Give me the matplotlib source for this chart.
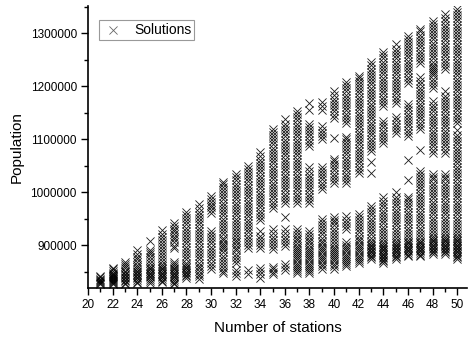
import matplotlib
matplotlib.use("Agg")
import matplotlib.pyplot as plt
import numpy as np

plt.rcParams['font.family'] = ['Liberation Sans', 'DejaVu Sans']

# population of each solution (in thousands), one list per number of stations
y21 = [826, 828, 830, 832, 834, 836, 839, 842]
y22 = [826, 828, 830, 832, 834, 836, 838, 840, 842, 844, 846, 848, 851, 854, 857]
y23 = [826, 829, 832, 835, 837, 840, 843, 846, 849, 852, 856, 860, 864, 868]
y24 = [828, 831, 834, 837, 840, 843, 846, 849, 852, 855, 859, 863, 868, 873, 878, 884, 890]
y25 = [828, 832, 836, 839, 842, 845, 848, 851, 854, 857, 861, 866, 872, 878, 883, 887, 891, 907]
y26 = [830, 833, 836, 839, 842, 845, 848, 851, 854, 857, 860, 864, 869, 875, 881, 887, 893, 898,
       903, 909, 915, 921, 928]
y27 = [826, 829, 832, 836, 839, 842, 845, 848, 851, 854, 857, 860, 864, 868, 894, 899, 905, 911,
       916, 921, 926, 931, 936, 941]
y28 = [838, 841, 844, 847, 850, 853, 856, 859, 862, 867, 873, 879, 885, 891, 897, 903, 909, 915,
       921, 927, 933, 939, 945, 951, 956, 962]
y29 = [836, 841, 846, 851, 856, 861, 867, 873, 879, 885, 891, 897, 903, 909, 915, 921, 927, 933,
       939, 945, 951, 957, 963, 970, 977]
y30 = [855, 861, 867, 873, 879, 885, 891, 897, 903, 909, 915, 920, 926, 960, 966, 971, 976, 981,
       986, 992]
y31 = [847, 852, 857, 862, 868, 874, 880, 886, 892, 896, 900, 904, 909, 914, 920, 926, 932, 938,
       944, 950, 956, 962, 968, 974, 980, 986, 992, 998, 1004, 1010, 1015, 1019]
y32 = [841, 847, 853, 866, 872, 878, 884, 890, 895, 900, 905, 910, 915, 920, 926, 932, 938, 944,
       950, 956, 962, 968, 974, 980, 986, 992, 998, 1004, 1010, 1016, 1022, 1028, 1034]
y33 = [845, 853, 894, 900, 906, 912, 918, 924, 930, 936, 942, 948, 954, 960, 966, 972, 978, 984,
       990, 996, 1002, 1008, 1014, 1020, 1026, 1032, 1038, 1043, 1049]
y34 = [838, 845, 851, 857, 894, 900, 906, 912, 918, 926, 947, 953, 959, 965, 971, 977, 983, 989,
       995, 1001, 1007, 1013, 1019, 1025, 1031, 1037, 1043, 1049, 1055, 1061, 1068, 1075]
y35 = [845, 850, 855, 858, 892, 898, 904, 910, 916, 922, 930, 970, 976, 982, 988, 994, 1000, 1006,
       1012, 1018, 1024, 1030, 1036, 1042, 1048, 1054, 1060, 1066, 1072, 1078, 1084, 1090, 1096,
       1102, 1108, 1113, 1119]
y36 = [853, 858, 864, 898, 904, 910, 916, 922, 930, 953, 979, 985, 991, 997, 1003, 1009, 1015,
       1021, 1027, 1033, 1039, 1045, 1051, 1057, 1063, 1069, 1075, 1081, 1087, 1093, 1099, 1105,
       1111, 1117, 1123, 1129, 1138]
y37 = [847, 851, 855, 859, 863, 867, 871, 875, 879, 883, 887, 891, 895, 899, 904, 909, 914, 919,
       924, 930, 979, 985, 991, 997, 1003, 1009, 1015, 1021, 1027, 1033, 1039, 1045, 1051, 1057,
       1063, 1069, 1075, 1081, 1087, 1093, 1099, 1105, 1111, 1117, 1123, 1129, 1135, 1141, 1147,
       1153]
y38 = [847, 851, 855, 859, 863, 867, 871, 875, 879, 883, 887, 891, 895, 900, 905, 910, 915, 920,
       926, 979, 985, 991, 997, 1003, 1009, 1015, 1021, 1027, 1033, 1040, 1047, 1087, 1093, 1099,
       1105, 1111, 1117, 1122, 1128, 1155, 1168]
y39 = [855, 860, 865, 870, 874, 878, 882, 886, 890, 894, 898, 903, 908, 914, 920, 926, 932, 938,
       943, 949, 1006, 1012, 1018, 1024, 1030, 1036, 1042, 1047, 1100, 1106, 1112, 1118, 1125,
       1155, 1162, 1170]
y40 = [855, 860, 865, 869, 873, 877, 881, 885, 889, 893, 897, 902, 907, 913, 919, 925, 931, 937,
       943, 948, 953, 1017, 1023, 1029, 1035, 1041, 1047, 1053, 1058, 1062, 1102, 1140, 1146, 1152,
       1158, 1164, 1170, 1176, 1183, 1190]
y41 = [860, 864, 868, 872, 876, 880, 884, 888, 892, 896, 901, 906, 930, 936, 942, 948, 955, 1017,
       1023, 1029, 1035, 1041, 1047, 1053, 1059, 1065, 1071, 1077, 1083, 1089, 1095, 1100, 1104,
       1130, 1136, 1142, 1148, 1154, 1160, 1166, 1172, 1178, 1184, 1190, 1196, 1202, 1207]
y42 = [866, 870, 874, 878, 882, 886, 890, 894, 898, 902, 907, 912, 918, 924, 930, 936, 942, 948,
       953, 958, 1036, 1042, 1048, 1054, 1060, 1066, 1072, 1078, 1084, 1090, 1096, 1102, 1108,
       1114, 1120, 1126, 1132, 1138, 1144, 1150, 1156, 1162, 1168, 1174, 1180, 1186, 1192, 1198,
       1204, 1210, 1215, 1219]
y43 = [874, 877, 880, 883, 886, 889, 892, 895, 898, 901, 904, 908, 914, 920, 926, 932, 938, 944,
       950, 956, 962, 968, 974, 1036, 1057, 1077, 1083, 1089, 1095, 1101, 1107, 1113, 1119, 1125,
       1131, 1137, 1143, 1149, 1155, 1161, 1167, 1173, 1179, 1185, 1191, 1197, 1203, 1209, 1215,
       1221, 1227, 1233, 1239, 1245]
y44 = [866, 869, 872, 875, 878, 881, 884, 887, 890, 893, 896, 899, 902, 906, 911, 917, 923, 929,
       935, 941, 947, 953, 959, 965, 971, 977, 984, 991, 1092, 1098, 1104, 1110, 1116, 1122, 1128,
       1134, 1162, 1168, 1174, 1180, 1186, 1192, 1198, 1204, 1210, 1216, 1222, 1228, 1234, 1240,
       1246, 1252, 1258, 1264]
y45 = [874, 877, 880, 883, 886, 889, 892, 895, 898, 901, 904, 908, 913, 919, 925, 931, 937, 943,
       949, 955, 961, 967, 973, 979, 985, 991, 1000, 1111, 1117, 1123, 1129, 1135, 1141, 1168, 1174,
       1180, 1186, 1192, 1198, 1204, 1210, 1216, 1222, 1228, 1234, 1240, 1246, 1252, 1258, 1264,
       1270, 1279]
y46 = [879, 882, 885, 888, 891, 894, 897, 900, 903, 906, 910, 915, 921, 927, 933, 939, 945, 951,
       957, 963, 969, 975, 981, 986, 991, 1023, 1060, 1106, 1112, 1118, 1124, 1130, 1136, 1142,
       1148, 1154, 1160, 1166, 1206, 1212, 1218, 1224, 1230, 1236, 1242, 1248, 1254, 1260, 1266,
       1272, 1278, 1284, 1289, 1294]
y47 = [879, 882, 885, 888, 891, 894, 897, 900, 903, 906, 910, 915, 921, 927, 933, 939, 945, 951,
       957, 963, 969, 975, 981, 987, 993, 999, 1005, 1011, 1017, 1023, 1029, 1035, 1040, 1079, 1119,
       1125, 1131, 1137, 1143, 1149, 1155, 1161, 1167, 1173, 1179, 1185, 1191, 1197, 1203, 1209,
       1217, 1243, 1249, 1255, 1261, 1267, 1273, 1279, 1285, 1291, 1297, 1303, 1308]
y48 = [883, 886, 889, 892, 895, 898, 901, 904, 907, 910, 913, 917, 922, 928, 934, 940, 946, 952,
       958, 964, 970, 976, 982, 988, 994, 1000, 1006, 1012, 1018, 1024, 1029, 1034, 1074, 1080,
       1086, 1092, 1098, 1104, 1110, 1116, 1122, 1128, 1134, 1140, 1146, 1152, 1158, 1164, 1172,
       1196, 1202, 1208, 1214, 1220, 1224, 1228, 1232, 1236, 1240, 1246, 1252, 1258, 1264, 1270,
       1276, 1282, 1288, 1294, 1300, 1306, 1312, 1317, 1323]
y49 = [883, 886, 889, 892, 895, 898, 901, 904, 907, 910, 913, 917, 922, 928, 934, 940, 946, 952,
       958, 964, 970, 976, 982, 988, 994, 1000, 1006, 1012, 1018, 1024, 1029, 1034, 1074, 1080,
       1086, 1092, 1098, 1104, 1110, 1116, 1122, 1128, 1134, 1140, 1146, 1152, 1158, 1164, 1170,
       1176, 1182, 1191, 1232, 1238, 1244, 1250, 1256, 1262, 1268, 1274, 1280, 1286, 1292, 1298,
       1304, 1310, 1316, 1322, 1329, 1336]
y50 = [874, 877, 880, 883, 886, 889, 892, 895, 898, 901, 904, 907, 910, 913, 917, 922, 928, 934,
       940, 946, 952, 958, 964, 970, 976, 982, 988, 994, 1000, 1006, 1012, 1018, 1024, 1030, 1036,
       1042, 1048, 1054, 1060, 1066, 1072, 1078, 1084, 1090, 1096, 1102, 1108, 1117, 1130, 1136,
       1142, 1148, 1154, 1160, 1166, 1172, 1178, 1184, 1190, 1196, 1202, 1208, 1214, 1220, 1226,
       1232, 1238, 1244, 1250, 1256, 1262, 1268, 1274, 1280, 1286, 1292, 1298, 1304, 1310, 1316,
       1322, 1328, 1334, 1340, 1345]

stations = list(range(21, 51))
populations = [y21, y22, y23, y24, y25, y26, y27, y28, y29, y30, y31, y32, y33, y34, y35,
               y36, y37, y38, y39, y40, y41, y42, y43, y44, y45, y46, y47, y48, y49, y50]

fig = plt.figure(figsize=(4.69, 3.39), dpi=100)
ax = fig.add_axes([88/469, 51/339, 379/469, 282/339])

for i, (n, pop) in enumerate(zip(stations, populations)):
    ax.scatter([n]*len(pop), np.array(pop)*1000, marker='x', s=34, c='black',
               linewidths=0.6, alpha=0.9, label='Solutions' if i == 0 else None)

ax.set_xlim(20, 50.8)
ax.set_ylim(819000, 1351000)
ax.set_xticks(range(20, 51, 2))
ax.set_xticks(range(21, 51, 2), minor=True)
ax.set_yticks(range(900000, 1300001, 100000))
ax.set_yticks(range(850000, 1350001, 100000), minor=True)
ax.ticklabel_format(axis='y', style='plain', useOffset=False)
ax.tick_params(which='major', direction='out', length=5, width=1, labelsize=8.5, pad=3)
ax.tick_params(which='minor', direction='out', length=3, width=1)
ax.spines['top'].set_visible(False)
ax.spines['right'].set_visible(False)
ax.spines['left'].set_linewidth(1.2)
ax.spines['bottom'].set_linewidth(1.2)

ax.set_xlabel('Number of stations', fontsize=11, labelpad=7)
ax.set_ylabel('Population', fontsize=11, labelpad=5)

leg = ax.legend(loc='upper left', bbox_to_anchor=(0.03, 0.95), borderaxespad=0,
                fancybox=False, edgecolor='gray', fontsize=10, handletextpad=0.8,
                borderpad=0.2, handlelength=1.5)
leg.get_frame().set_linewidth(0.8)
for h in leg.legend_handles:
    h.set_alpha(0.6)

plt.savefig('out.png', dpi=100)
